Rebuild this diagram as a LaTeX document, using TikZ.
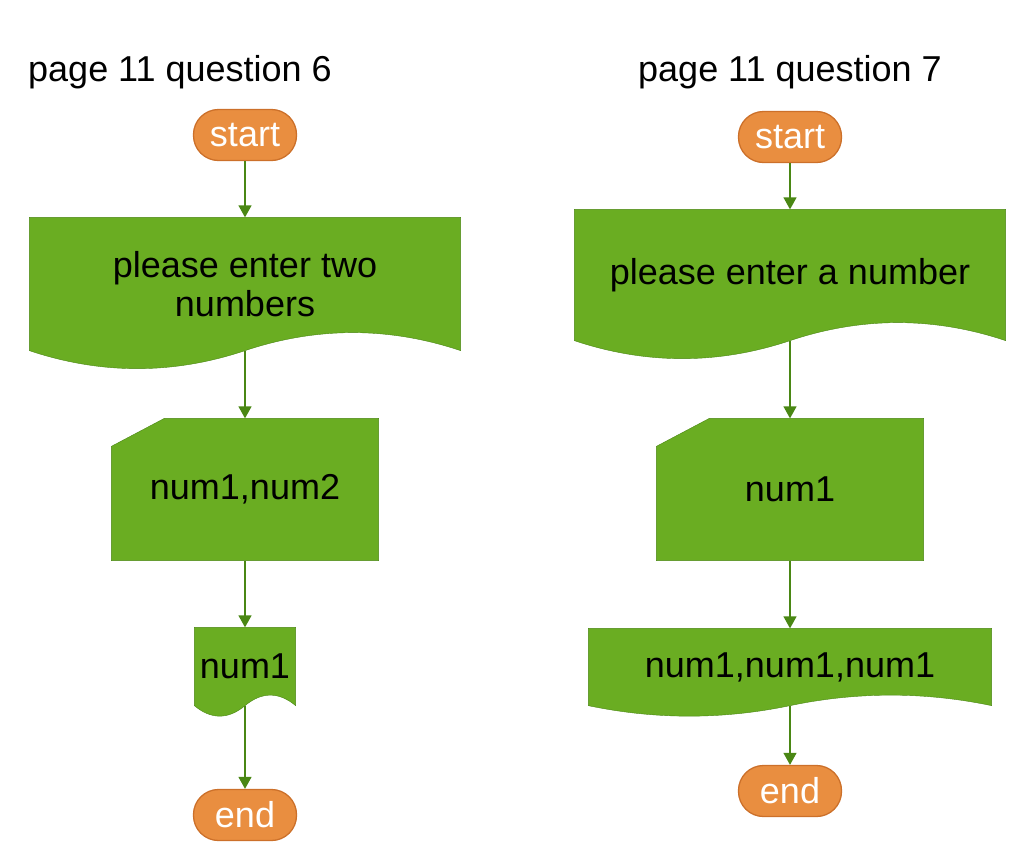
\documentclass[tikz,border=0pt]{standalone}
\usepackage{fontspec}
\setmainfont{Liberation Sans}
\usepackage{xcolor}
\definecolor{mygreen}{RGB}{106,173,34}
\definecolor{mydarkgreen}{RGB}{74,135,20}
\definecolor{myorange}{RGB}{233,142,64}
\definecolor{mydarkorange}{RGB}{204,112,42}
\usepackage{tikz}
\usetikzlibrary{arrows.meta,backgrounds}

% document shape: node, w/6, wave height
\newcommand{\docwave}[3]{%
  \filldraw[shp] (#1.north west) -- (#1.north east) -- (#1.south east)
    .. controls +(-#2,-#3) and +(#2,-#3) .. (#1.south)
    .. controls +(-#2,#3) and +(#2,#3) .. (#1.south west) -- cycle;}
% card shape with cut corner
\newcommand{\cardcut}[1]{%
  \filldraw[shp] ([yshift=-28pt]#1.north west) -- ([xshift=53pt]#1.north west)
    -- (#1.north east) -- (#1.south east) -- (#1.south west) -- cycle;}

\begin{document}
\begin{tikzpicture}[x=1pt,y=-1pt,line width=1.3pt,font=\fontsize{36}{39}\selectfont]
	\tikzstyle{term}=[rectangle,rounded corners=25pt,draw=mydarkorange,fill=myorange,text=white,minimum width=103pt,minimum height=51pt,inner sep=0pt];
	\tikzstyle{box}=[rectangle,inner sep=0pt,align=center];
	\tikzstyle{shp}=[draw=mydarkgreen,fill=mygreen];
	\tikzstyle{arr}=[draw=mydarkgreen,-{Triangle[width=13pt,length=12pt]}];
	\useasboundingbox (0,0) rectangle (1025,860);
	% question 6
	\node (t6) at (180,72) {page 11 question 6};
	\node[term] (s6) at (245,135) {start};
	\node[box,minimum width=430pt,minimum height=132pt] (d6) at (245,284) {please enter two\\numbers};
	\node[box,minimum width=266pt,minimum height=141pt] (c6) at (245,489.5) {num1,num2};
	\node[box,minimum width=100pt,minimum height=77pt] (o6) at (245,666.5) {num1};
	\node[term] (e6) at (245,815) {end};
	% question 7
	\node (t7) at (790,72) {page 11 question 7};
	\node[term] (s7) at (790,137) {start};
	\node[box,minimum width=430pt,minimum height=130pt] (d7) at (790,275) {please enter a number};
	\node[box,minimum width=266pt,minimum height=141pt] (c7) at (790,489.5) {num1};
	\node[box,minimum width=402pt,minimum height=76pt] (o7) at (790,667) {num1,num1,num1};
	\node[term] (e7) at (790,791) {end};
	\begin{scope}[on background layer]
		\docwave{d6}{71.7}{24}
		\cardcut{c6}
		\docwave{o6}{16.7}{14}
		\docwave{d7}{71.7}{24}
		\cardcut{c7}
		\docwave{o7}{67}{14}
	\end{scope}
	\draw[arr] (s6) -- (d6);
	\draw[arr] (d6) -- (c6);
	\draw[arr] (c6) -- (o6);
	\draw[arr] (o6) -- (e6);
	\draw[arr] (s7) -- (d7);
	\draw[arr] (d7) -- (c7);
	\draw[arr] (c7) -- (o7);
	\draw[arr] (o7) -- (e7);
\end{tikzpicture}
\end{document}
